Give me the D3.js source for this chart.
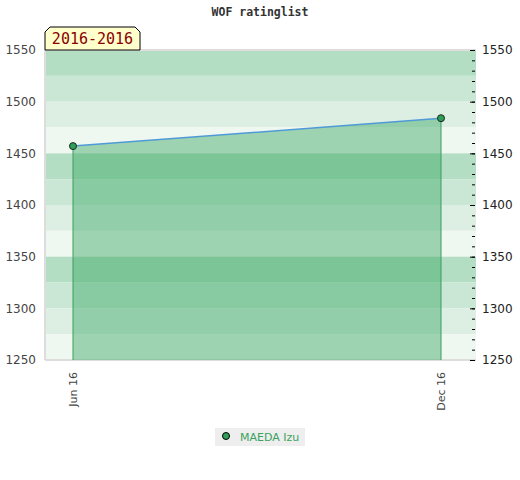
<!DOCTYPE html>
<html>
<head>
<meta charset="utf-8">
<script src="https://cdn.jsdelivr.net/npm/d3@7"></script>
<style>
  body { margin: 0; background: #fff; }
  svg { display: block; }
</style>
</head>
<body>
<div id="chart"></div>
<script>
// data
const dates = ["2016-06-01", "2016-12-01"];
const ratings = [1457, 1484];
const yTicks = [1250, 1300, 1350, 1400, 1450, 1500, 1550];
const xTickLabels = ["Jun 16", "Dec 16"];
const playerName = "MAEDA Izu";
const periodLabel = "2016-2016";
const chartTitle = "WOF ratinglist";

// band colours, darkest at top of every 100-point block
const bandColors = ["#b3dec3", "#cae7d5", "#ddeee3", "#eff7f1"];

const config = {
  width: 520,
  height: 480,
  margin: { top: 50, right: 44, bottom: 120, left: 45 },
};

const width = config.width - config.margin.left - config.margin.right;
const height = config.height - config.margin.top - config.margin.bottom;

const svg = d3
  .select("#chart")
  .append("svg")
  .attr("width", config.width)
  .attr("height", config.height);

const g = svg
  .append("g")
  .attr("transform", `translate(${config.margin.left},${config.margin.top})`);

const points = dates.map((d, i) => ({ date: d, value: ratings[i] }));

// x: the two dates sit a little inside the plot
const x = d3
  .scalePoint()
  .domain(dates)
  .range([28, width - 35]);

const y = d3.scaleLinear().domain([1250, 1550]).range([height, 0]);

// background bands, 25 points each
const bandEdges = d3.range(1550, 1250, -25);
g.selectAll(".band")
  .data(bandEdges)
  .enter()
  .append("rect")
  .attr("x", 0)
  .attr("width", width)
  .attr("y", (d) => y(d))
  .attr("height", (d) => y(d - 25) - y(d))
  .attr("fill", (d, i) => bandColors[i % 4]);

// frame lines
[
  [0, 0, width, 0],
  [0, height, width, height],
  [0, 0, 0, height],
].forEach(([x1, y1, x2, y2]) => {
  g.append("line")
    .attr("x1", x1)
    .attr("y1", y1)
    .attr("x2", x2)
    .attr("y2", y2)
    .attr("stroke", "#dddddd")
    .attr("stroke-width", 2);
});

// area under the rating line
const area = d3
  .area()
  .x((d) => x(d.date))
  .y0(height)
  .y1((d) => y(d.value));
g.append("path")
  .datum(points)
  .attr("d", area)
  .attr("fill", "#2ea15a")
  .attr("fill-opacity", 0.42);

// vertical drop lines
g.selectAll(".drop")
  .data(points)
  .enter()
  .append("line")
  .attr("x1", (d) => x(d.date))
  .attr("x2", (d) => x(d.date))
  .attr("y1", (d) => y(d.value))
  .attr("y2", height)
  .attr("stroke", "#3a9d5d")
  .attr("stroke-width", 1);

const line = d3
  .line()
  .x((d) => x(d.date))
  .y((d) => y(d.value));
g.append("path")
  .datum(points)
  .attr("d", line)
  .attr("fill", "none")
  .attr("stroke", "#4f9ad6")
  .attr("stroke-width", 1.5);

g.selectAll(".dot")
  .data(points)
  .enter()
  .append("circle")
  .attr("cx", (d) => x(d.date))
  .attr("cy", (d) => y(d.value))
  .attr("r", 3.5)
  .attr("fill", "#2f9e57")
  .attr("stroke", "#1a2a1f")
  .attr("stroke-width", 1);

// left axis: labels only
const leftAxis = g
  .append("g")
  .call(
    d3
      .axisLeft(y)
      .tickValues(yTicks)
      .tickSize(0)
      .tickPadding(9)
      .tickFormat(d3.format("d"))
  );
leftAxis.select(".domain").remove();
leftAxis
  .selectAll("text")
  .attr("font-family", "DejaVu Sans, sans-serif")
  .attr("font-size", 12)
  .attr("fill", "#444");

// right axis: small ticks just inside the plot edge, labels outside
const rightG = g.append("g").attr("transform", `translate(${width},0)`);
const minor = rightG
  .append("g")
  .call(
    d3
      .axisRight(y)
      .tickValues(d3.range(1250, 1551, 10))
      .tickSize(0)
      .tickFormat("")
  );
minor.select(".domain").remove();
minor
  .selectAll(".tick line")
  .attr("x1", -4)
  .attr("x2", -1)
  .attr("stroke", "#000");

const rightAxis = rightG
  .append("g")
  .call(
    d3
      .axisRight(y)
      .tickValues(yTicks)
      .tickSize(0)
      .tickPadding(6)
      .tickFormat(d3.format("d"))
  );
rightAxis.select(".domain").remove();
rightAxis
  .selectAll(".tick line")
  .attr("x1", -6)
  .attr("x2", -1)
  .attr("stroke", "#000");
rightAxis
  .selectAll("text")
  .attr("font-family", "DejaVu Sans, sans-serif")
  .attr("font-size", 12)
  .attr("fill", "#222");

// x axis labels, rotated
const xAxis = g
  .append("g")
  .attr("transform", `translate(0,${height})`)
  .call(
    d3
      .axisBottom(x)
      .tickSize(0)
      .tickFormat((d, i) => xTickLabels[i])
  );
xAxis.select(".domain").remove();
xAxis
  .selectAll("text")
  .attr("font-family", "DejaVu Sans, sans-serif")
  .attr("font-size", 11)
  .attr("fill", "#444")
  .attr("text-anchor", "end")
  .attr("transform", "rotate(-90)")
  .attr("x", -12)
  .attr("y", 0)
  .attr("dy", "0.35em");

// title
svg
  .append("text")
  .attr("x", config.width / 2)
  .attr("y", 16)
  .attr("text-anchor", "middle")
  .attr("font-family", "DejaVu Sans Mono, monospace")
  .attr("font-weight", "bold")
  .attr("font-size", 11.5)
  .attr("fill", "#333")
  .text(chartTitle);

// period tag with clipped top corners
const tagX = config.margin.left;
const tagY = 27;
const tagW = 95;
const tagH = 23;
const c = 5;
svg
  .append("path")
  .attr(
    "d",
    `M${tagX},${tagY + tagH} L${tagX},${tagY + c} L${tagX + c},${tagY} L${tagX + tagW - c},${tagY} L${tagX + tagW},${tagY + c} L${tagX + tagW},${tagY + tagH} Z`
  )
  .attr("fill", "#ffffcc")
  .attr("stroke", "#000")
  .attr("stroke-width", 1);
svg
  .append("text")
  .attr("x", tagX + tagW / 2)
  .attr("y", tagY + 17)
  .attr("text-anchor", "middle")
  .attr("font-family", "DejaVu Sans Mono, monospace")
  .attr("font-size", 15)
  .attr("fill", "#8b0000")
  .text(periodLabel);

// legend
const legend = svg.append("g").attr("transform", "translate(215,428)");
legend
  .append("rect")
  .attr("width", 90)
  .attr("height", 18)
  .attr("fill", "#eeeeee");
legend
  .append("circle")
  .attr("cx", 11)
  .attr("cy", 8)
  .attr("r", 3.5)
  .attr("fill", "#2f9e57")
  .attr("stroke", "#000")
  .attr("stroke-width", 1);
legend
  .append("text")
  .attr("x", 25)
  .attr("y", 13)
  .attr("font-family", "DejaVu Sans, sans-serif")
  .attr("font-size", 11)
  .attr("fill", "#3aa35f")
  .text(playerName);
</script>
</body>
</html>
